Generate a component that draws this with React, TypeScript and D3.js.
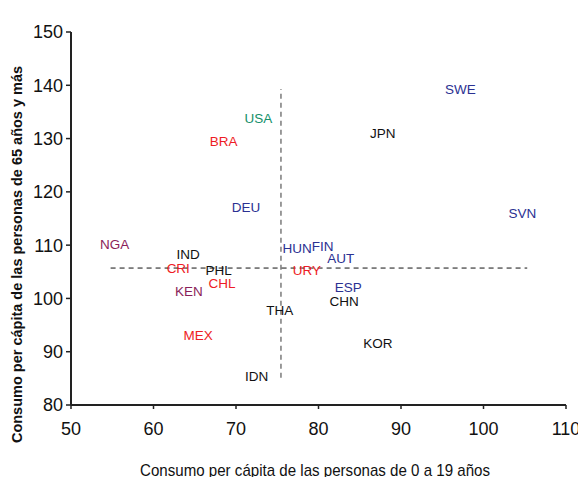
import React from 'react';
import * as d3 from 'd3';

const countries = ['SWE', 'JPN', 'USA', 'BRA', 'DEU', 'SVN', 'NGA', 'IND', 'CRI', 'PHL', 'KEN', 'CHL', 'HUN', 'FIN', 'AUT', 'URY', 'ESP', 'CHN', 'THA', 'MEX', 'KOR', 'IDN'];
const youngCons = [97.2, 87.8, 72.7, 68.5, 71.2, 104.7, 55.3, 64.2, 63.0, 67.9, 64.3, 68.3, 77.4, 80.5, 82.7, 78.6, 83.6, 83.1, 75.3, 65.4, 87.2, 72.5];
const oldCons = [139.3, 131.0, 133.8, 129.5, 117.1, 116.0, 110.2, 108.3, 105.7, 105.3, 101.4, 102.9, 109.5, 109.8, 107.6, 105.3, 102.1, 99.5, 97.8, 93.1, 91.6, 85.4];
const groups = ['blue', 'black', 'green', 'red', 'blue', 'blue', 'purple', 'black', 'red', 'black', 'purple', 'red', 'blue', 'blue', 'blue', 'red', 'blue', 'black', 'black', 'red', 'black', 'black'];
const groupColors: Record<string, string> = {
  blue: '#2b3192',
  black: '#111111',
  green: '#15906a',
  red: '#ee1c25',
  purple: '#8b1e5a',
};

const xTicks = [50, 60, 70, 80, 90, 100, 110];
const yTicks = [80, 90, 100, 110, 120, 130, 140, 150];

// mean reference lines (vertical: x mean, horizontal: y mean)
const vLineX = 75.45;
const vLineY = [85.1, 139.3];
const hLineY = 105.7;
const hLineX = [54.8, 105.3];

const W = 578;
const H = 477;
const M = { top: 32, right: 12, bottom: 72, left: 71 };

export default function App() {
  const innerW = W - M.left - M.right;
  const innerH = H - M.top - M.bottom;
  const x = d3.scaleLinear().domain([50, 110]).range([0, innerW]);
  const y = d3.scaleLinear().domain([80, 150]).range([innerH, 0]);
  const tickFont = '"Liberation Sans Narrow", "Arial Narrow", Arial, sans-serif';
  const font = '"Liberation Sans", Arial, sans-serif';

  return (
    <svg width={W} height={H} style={{ position: 'fixed', top: 0, left: 0, background: '#fff' }}>
      <g transform={`translate(${M.left},${M.top})`}>
        <line x1={x(vLineX)} x2={x(vLineX)} y1={y(vLineY[0])} y2={y(vLineY[1])}
          stroke="#666" strokeWidth={1.3} strokeDasharray="5,4" />
        <line x1={x(hLineX[0])} x2={x(hLineX[1])} y1={y(hLineY)} y2={y(hLineY)}
          stroke="#111" strokeWidth={1} strokeDasharray="5,4" />

        {countries.map((c, i) => (
          <text key={c} x={x(youngCons[i])} y={y(oldCons[i])} dy="0.36em" textAnchor="middle"
            fontFamily={font} fontSize={13.5} fill={groupColors[groups[i]]}>
            {c}
          </text>
        ))}

        <line x1={0} x2={0} y1={0} y2={innerH} stroke="#222" strokeWidth={2} />
        <line x1={0} x2={innerW} y1={innerH} y2={innerH} stroke="#222" strokeWidth={2} />
        {yTicks.map(t => (
          <g key={t} transform={`translate(0,${y(t)})`}>
            <line x1={-5} x2={0} stroke="#222" strokeWidth={1.5} />
            <text x={-8} dy="0.36em" textAnchor="end" fontFamily={tickFont} fontSize={18} fill="#111">{t}</text>
          </g>
        ))}
        {xTicks.map(t => (
          <g key={t} transform={`translate(${x(t)},${innerH})`}>
            <line y1={0} y2={4} stroke="#222" strokeWidth={1.5} />
            <text y={30} textAnchor="middle" fontFamily={tickFont} fontSize={18} fill="#111">{t}</text>
          </g>
        ))}
      </g>
      <text transform={`translate(22,${M.top + innerH / 2 + 36}) rotate(-90)`} textAnchor="middle"
        fontFamily={font} fontSize={14.5} fontWeight="bold" fill="#111">
        Consumo per cápita de las personas de 65 años y más
      </text>
      <text x={315} y={476} textAnchor="middle" fontFamily={tickFont} fontSize={17}
        textLength={350} lengthAdjust="spacingAndGlyphs" fill="#111">
        Consumo per cápita de las personas de 0 a 19 años
      </text>
    </svg>
  );
}
